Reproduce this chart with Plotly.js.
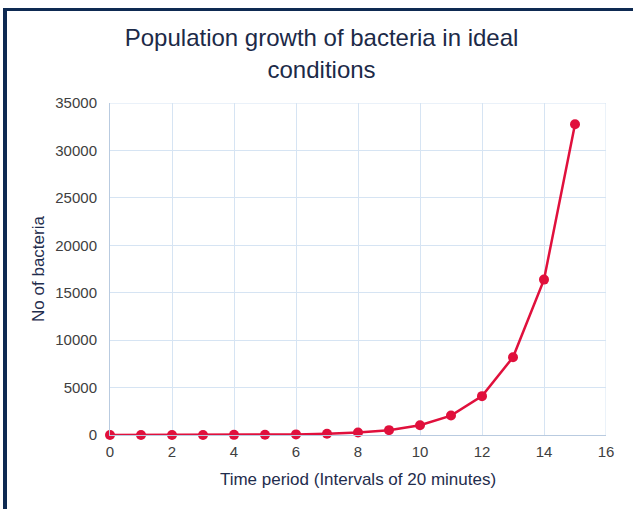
<!DOCTYPE html>
<html>
<head>
<meta charset="utf-8">
<script src="https://cdn.plot.ly/plotly-3.0.1.min.js"></script>
<style>
  html, body { margin: 0; padding: 0; background: #ffffff; }
  #wrap { position: relative; width: 633px; height: 509px; overflow: hidden; }
  #chart { position: absolute; left: 0; top: 0; width: 633px; height: 509px; }
  #frame { position: absolute; left: 3px; top: 8px; width: 640px; height: 520px;
           border-left: 4px solid #0e2a52; border-top: 3px solid #0e2a52; pointer-events: none; }
</style>
</head>
<body>
<div id="wrap">
  <div id="chart"></div>
  <div id="frame"></div>
</div>
<script>
const timePeriods = [0, 1, 2, 3, 4, 5, 6, 7, 8, 9, 10, 11, 12, 13, 14, 15];
const bacteriaCount = [1, 2, 4, 8, 16, 32, 64, 128, 256, 512, 1024, 2048, 4096, 8192, 16384, 32768];
const xTickValues = [0, 2, 4, 6, 8, 10, 12, 14, 16];
const yTickValues = [0, 5000, 10000, 15000, 20000, 25000, 30000, 35000];

const trace = {
  x: timePeriods,
  y: bacteriaCount,
  type: 'scatter',
  mode: 'lines+markers',
  line: { color: '#e0103c', width: 2.5 },
  marker: { color: '#e0103c', size: 10 },
  cliponaxis: false,
  hoverinfo: 'x+y'
};

const layout = {
  width: 633,
  height: 509,
  margin: { l: 110, r: 27, t: 103, b: 74 },
  paper_bgcolor: '#ffffff',
  plot_bgcolor: '#ffffff',
  showlegend: false,
  font: { family: 'Liberation Sans, Arial, sans-serif', color: '#404040', size: 15 },
  title: {
    text: 'Population growth of bacteria in ideal<br>conditions',
    font: { family: 'Liberation Sans, Arial, sans-serif', size: 24, color: '#1c2a48' },
    x: 0.508, xanchor: 'center',
    y: 0.909, yanchor: 'top'
  },
  xaxis: {
    range: [0, 16],
    tickvals: xTickValues,
    ticktext: xTickValues.map(String),
    showgrid: true,
    gridcolor: '#d6e4f3',
    gridwidth: 1,
    zeroline: false,
    showline: true,
    linecolor: '#b9cbe0',
    linewidth: 1,
    ticks: '',
    ticklabelstandoff: 3,
    tickfont: { size: 15, color: '#404040' },
    title: {
      text: 'Time period (Intervals of 20 minutes)',
      font: { size: 17, color: '#1f2d4d' },
      standoff: 14
    }
  },
  yaxis: {
    range: [0, 35000],
    tickvals: yTickValues,
    ticktext: yTickValues.map(String),
    showgrid: true,
    gridcolor: '#d6e4f3',
    gridwidth: 1,
    zeroline: false,
    showline: true,
    linecolor: '#b9cbe0',
    linewidth: 1,
    ticks: '',
    ticklabelstandoff: 9,
    tickfont: { size: 15, color: '#404040' },
    title: {
      text: 'No of bacteria',
      font: { size: 17, color: '#1f2d4d' },
      standoff: 6
    }
  },
  shapes: [
    { type: 'line', xref: 'x', yref: 'paper', x0: 16, x1: 16, y0: 0, y1: 1,
      line: { color: '#d6e4f3', width: 1 } },
    { type: 'line', xref: 'paper', yref: 'y', x0: 0, x1: 1, y0: 35000, y1: 35000,
      line: { color: '#d6e4f3', width: 1 } }
  ]
};

Plotly.newPlot('chart', [trace], layout, { displayModeBar: false, staticPlot: true });
</script>
</body>
</html>
